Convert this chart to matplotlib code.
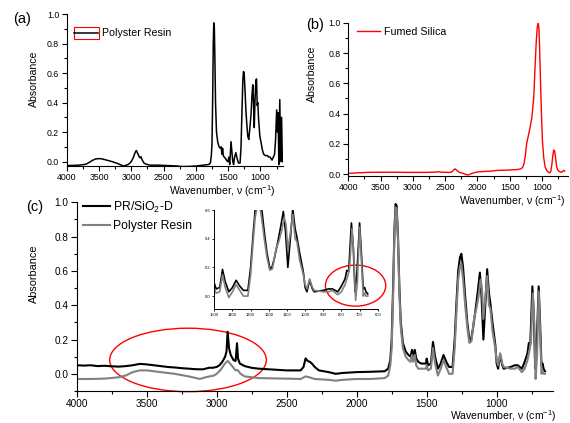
import matplotlib
matplotlib.use("Agg")
import matplotlib.pyplot as plt
from matplotlib.patches import Ellipse, Rectangle
from matplotlib.ticker import MultipleLocator

plt.rcParams['font.family'] = ['Liberation Sans', 'DejaVu Sans']
plt.rcParams['mathtext.fontset'] = 'custom'
plt.rcParams['mathtext.rm'] = 'Liberation Sans'
plt.rcParams['mathtext.default'] = 'regular'

# (a) polyester resin spectrum
pr_wn = [4000, 3900, 3800, 3700, 3650, 3600, 3550, 3500, 3450, 3400, 3300, 3200, 3150, 3120,
         3080, 3050, 3020, 3000, 2970, 2950, 2930, 2920, 2905, 2880, 2865, 2850, 2830, 2800,
         2750, 2700, 2600, 2500, 2400, 2300, 2200, 2100, 2000, 1900, 1800, 1775, 1760, 1750,
         1740, 1730, 1722, 1714, 1705, 1695, 1680, 1660, 1640, 1620, 1607, 1597, 1585, 1575,
         1560, 1540, 1510, 1500, 1490, 1475, 1455, 1440, 1428, 1415, 1400, 1380, 1360, 1340,
         1315, 1300, 1285, 1272, 1262, 1252, 1240, 1225, 1210, 1195, 1180, 1165, 1145, 1130,
         1118, 1108, 1095, 1085, 1070, 1060, 1050, 1040, 1030, 1010, 1000, 990, 970, 950, 920,
         890, 870, 850, 820, 800, 780, 765, 748, 735, 725, 715, 700, 685, 672, 660]
pr_abs = [-0.027, -0.026, -0.024, -0.018, -0.005, 0.008, 0.018, 0.02, 0.018, 0.012, 0.0, -0.015,
          -0.025, -0.03, -0.025, -0.02, -0.01, 0.0, 0.025, 0.05, 0.07, 0.075, 0.06, 0.035, 0.025,
          0.033, 0.01, -0.012, -0.02, -0.025, -0.024, -0.026, -0.028, -0.03, -0.034, -0.033,
          -0.03, -0.025, -0.02, -0.01, 0.04, 0.12, 0.4, 0.8, 0.94, 0.92, 0.7, 0.4, 0.2, 0.13,
          0.1, 0.09, 0.1, 0.05, 0.09, 0.04, 0.03, 0.02, 0.0, 0.0, 0.03, -0.02, 0.135, 0.06, 0.0,
          -0.02, 0.03, 0.06, 0.02, -0.01, -0.01, 0.1, 0.35, 0.55, 0.61, 0.6, 0.5, 0.35, 0.25,
          0.17, 0.15, 0.22, 0.32, 0.45, 0.52, 0.42, 0.23, 0.4, 0.55, 0.56, 0.38, 0.4, 0.3, 0.18,
          0.15, 0.13, 0.08, 0.05, 0.04, 0.04, 0.03, 0.03, 0.01, 0.03, 0.05, 0.15, 0.35, 0.2,
          0.33, -0.02, 0.42, 0.0, 0.3, 0.0]

# (b) fumed silica spectrum
fs_wn = [4000, 3900, 3800, 3700, 3500, 3300, 3100, 3000, 2800, 2650, 2600, 2550, 2450, 2400,
         2365, 2345, 2320, 2280, 2220, 2180, 2140, 2100, 2050, 2000, 1900, 1800, 1700, 1600,
         1500, 1400, 1330, 1300, 1280, 1260, 1240, 1215, 1190, 1160, 1130, 1110, 1090, 1075,
         1062, 1050, 1040, 1025, 1010, 995, 975, 955, 930, 900, 880, 865, 850, 835, 820, 805,
         790, 775, 760, 740, 720, 700, 680, 665, 650]
fs_abs = [0.005, 0.008, 0.01, 0.012, 0.013, 0.013, 0.012, 0.012, 0.012, 0.014, 0.016, 0.013,
          0.012, 0.014, 0.03, 0.035, 0.025, 0.012, 0.005, -0.002, -0.005, 0.003, 0.01, 0.015,
          0.018, 0.02, 0.025, 0.026, 0.028, 0.03, 0.035, 0.045, 0.07, 0.12, 0.2, 0.25, 0.3,
          0.37, 0.5, 0.7, 0.88, 0.97, 1.0, 0.97, 0.85, 0.62, 0.4, 0.22, 0.11, 0.05, 0.025,
          0.012, 0.01, 0.02, 0.06, 0.12, 0.16, 0.15, 0.1, 0.05, 0.03, 0.02, 0.015, 0.012, 0.02,
          0.025, 0.02]

# (c) PR/SiO2-D (black)
prs_wn = [4000, 3950, 3900, 3850, 3800, 3750, 3700, 3650, 3600, 3550, 3500, 3450, 3400, 3350,
          3300, 3250, 3200, 3150, 3100, 3080, 3050, 3030, 3000, 2980, 2960, 2940, 2930, 2922,
          2912, 2900, 2880, 2865, 2855, 2848, 2835, 2800, 2750, 2700, 2600, 2500, 2400, 2380,
          2365, 2350, 2335, 2320, 2300, 2270, 2200, 2150, 2100, 2000, 1900, 1800, 1775, 1760,
          1750, 1740, 1730, 1722, 1715, 1705, 1695, 1685, 1670, 1650, 1630, 1615, 1605, 1597,
          1585, 1575, 1560, 1540, 1520, 1505, 1500, 1490, 1470, 1455, 1440, 1420, 1400, 1380,
          1360, 1340, 1315, 1300, 1285, 1275, 1262, 1252, 1240, 1225, 1210, 1195, 1185, 1170,
          1150, 1135, 1120, 1108, 1095, 1080, 1068, 1055, 1045, 1030, 1010, 1000, 990, 975, 960,
          950, 900, 870, 850, 820, 800, 780, 770, 760, 745, 735, 725, 715, 700, 690, 680, 672,
          665, 655]
prs_abs = [0.05, 0.048, 0.05, 0.045, 0.047, 0.044, 0.042, 0.045, 0.05, 0.058, 0.055, 0.05,
           0.045, 0.04, 0.037, 0.033, 0.03, 0.027, 0.026, 0.03, 0.036, 0.035, 0.04, 0.05, 0.07,
           0.1, 0.13, 0.245, 0.15, 0.11, 0.08, 0.075, 0.178, 0.09, 0.06, 0.045, 0.035, 0.03,
           0.025, 0.02, 0.02, 0.04, 0.09, 0.075, 0.07, 0.06, 0.04, 0.02, 0.01, 0.0, 0.005, 0.01,
           0.012, 0.015, 0.03, 0.08, 0.2, 0.5, 0.85, 0.99, 0.98, 0.8, 0.5, 0.3, 0.18, 0.13,
           0.11, 0.1, 0.14, 0.1, 0.14, 0.09, 0.07, 0.06, 0.06, 0.06, 0.089, 0.05, 0.06, 0.186,
           0.1, 0.03, 0.06, 0.11, 0.07, 0.04, 0.04, 0.2, 0.45, 0.6, 0.68, 0.7, 0.62, 0.45, 0.3,
           0.2, 0.19, 0.26, 0.38, 0.48, 0.59, 0.45, 0.2, 0.42, 0.61, 0.47, 0.41, 0.3, 0.17,
           0.06, 0.03, 0.11, 0.05, 0.03, 0.04, 0.05, 0.05, 0.03, 0.07, 0.12, 0.18, 0.17, 0.51,
           0.35, 0.03, 0.15, 0.51, 0.3, 0.05, 0.06, 0.03, 0.015]

# (c) polyester resin (grey)
prc_wn = [4000, 3900, 3800, 3700, 3650, 3600, 3550, 3500, 3450, 3400, 3300, 3200, 3120, 3080,
          3050, 3020, 3000, 2970, 2950, 2930, 2920, 2905, 2880, 2865, 2850, 2830, 2800, 2700,
          2500, 2400, 2365, 2340, 2300, 2200, 2150, 2100, 2000, 1900, 1800, 1775, 1760, 1750,
          1740, 1730, 1722, 1715, 1705, 1695, 1685, 1670, 1650, 1630, 1615, 1605, 1597, 1585,
          1575, 1560, 1540, 1520, 1505, 1500, 1490, 1470, 1455, 1440, 1420, 1400, 1380, 1360,
          1340, 1315, 1300, 1285, 1275, 1262, 1252, 1240, 1225, 1210, 1195, 1180, 1160, 1145,
          1130, 1115, 1105, 1095, 1080, 1068, 1055, 1045, 1030, 1010, 1000, 990, 975, 960, 950,
          900, 870, 850, 820, 800, 780, 765, 755, 742, 732, 722, 712, 700, 690, 680, 672, 665,
          655]
prc_abs = [-0.03, -0.03, -0.028, -0.02, -0.01, 0.01, 0.02, 0.02, 0.015, 0.01, 0.0, -0.015,
           -0.03, -0.02, -0.015, -0.01, 0.0, 0.025, 0.05, 0.07, 0.075, 0.06, 0.035, 0.02, 0.022,
           0.0, -0.015, -0.025, -0.028, -0.03, -0.015, -0.02, -0.03, -0.035, -0.04, -0.035,
           -0.03, -0.03, -0.025, -0.01, 0.05, 0.15, 0.45, 0.82, 0.97, 0.96, 0.78, 0.47, 0.27,
           0.15, 0.1, 0.08, 0.07, 0.11, 0.07, 0.11, 0.05, 0.03, 0.03, 0.03, 0.03, 0.05, 0.02,
           0.03, 0.15, 0.06, -0.01, 0.03, 0.08, 0.04, 0.0, 0.0, 0.15, 0.4, 0.55, 0.63, 0.64,
           0.55, 0.4, 0.27, 0.18, 0.19, 0.33, 0.38, 0.45, 0.55, 0.5, 0.32, 0.45, 0.57, 0.4, 0.38,
           0.25, 0.15, 0.08, 0.05, 0.12, 0.06, 0.04, 0.03, 0.03, 0.04, 0.01, 0.03, 0.08, 0.14,
           0.2, 0.47, 0.3, -0.03, 0.1, 0.48, 0.25, 0.0, 0.02, 0.0, 0.0]

xlabel = 'Wavenumber, ν (cm$^{-1}$)'


def style_axes(ax, tick_size, xmin_lim):
    for side in ['top', 'right']:
        ax.spines[side].set_visible(False)
    ax.set_xlim(4000, xmin_lim)
    ax.set_xticks([4000, 3500, 3000, 2500, 2000, 1500, 1000])
    ax.xaxis.set_minor_locator(MultipleLocator(250))
    ax.set_yticks([0.0, 0.2, 0.4, 0.6, 0.8, 1.0])
    ax.yaxis.set_minor_locator(MultipleLocator(0.1))
    ax.yaxis.set_major_formatter(plt.FormatStrFormatter('%.1f'))
    ax.tick_params(which='major', length=3.5, width=0.8, labelsize=tick_size, pad=2)
    ax.tick_params(which='minor', length=2, width=0.8)
    ax.patch.set_visible(False)


fig = plt.figure(figsize=(5.7, 4.23), dpi=100)

# ---- (a)
ax_a = fig.add_axes([0.117, 0.6083, 0.3795, 0.3586])
ax_a.plot(pr_wn, pr_abs, color='black', lw=1.1, label='Polyster Resin')
style_axes(ax_a, 6.3, 650)
ax_a.set_ylim(-0.028, 1.0)
ax_a.set_ylabel('Absorbance', fontsize=7.6)
ax_a.yaxis.set_label_coords(-0.128, 0.575)
ax_a.set_xlabel(xlabel, fontsize=7.5, loc='right')
ax_a.xaxis.set_label_coords(0.963, -0.118)
ax_a.legend(loc='center left', bbox_to_anchor=(0.034, 0.873), frameon=False, fontsize=7.7,
            handlelength=2.25, handletextpad=0.35, borderpad=0, borderaxespad=0)
ax_a.add_patch(Rectangle((0.034, 0.835), 0.114, 0.079, transform=ax_a.transAxes, fill=False,
                         edgecolor='red', lw=0.8, clip_on=False))

# ---- (b)
ax_b = fig.add_axes([0.611, 0.5846, 0.3854, 0.3617])
ax_b.plot(fs_wn, fs_abs, color='red', lw=1.0, label='Fumed Silica')
style_axes(ax_b, 6.3, 600)
ax_b.set_ylim(-0.01, 1.0)
ax_b.set_ylabel('Absorbance', fontsize=7.6)
ax_b.yaxis.set_label_coords(-0.142, 0.665)
ax_b.set_xlabel(xlabel, fontsize=7.5, loc='right')
ax_b.xaxis.set_label_coords(0.986, -0.112)
ax_b.legend(loc='center left', bbox_to_anchor=(0.038, 0.939), frameon=False, fontsize=7.7,
            handlelength=2.2, handletextpad=0.37, borderpad=0, borderaxespad=0)

# ---- (c)
ax_c = fig.add_axes([0.1346, 0.0757, 0.835, 0.446])
ax_c.plot(prs_wn, prs_abs, color='black', lw=1.5, label='PR/SiO$_2$-D')
ax_c.plot(prc_wn, prc_abs, color='#808080', lw=1.5, label='Polyster Resin')
style_axes(ax_c, 7.2, 600)
ax_c.set_ylim(-0.1, 1.0)
ax_c.tick_params(which='major', length=4)
ax_c.tick_params(which='minor', length=2.5)
ax_c.set_ylabel('Absorbance', fontsize=7.8)
ax_c.yaxis.set_label_coords(-0.0786, 0.62)
ax_c.set_xlabel(xlabel, fontsize=7.5, loc='right')
ax_c.xaxis.set_label_coords(1.008, -0.093)
ax_c.legend(loc='upper left', bbox_to_anchor=(0.013, 1.015), frameon=False, fontsize=8.8,
            handlelength=2.2, handletextpad=0.25, labelspacing=0.45, borderpad=0,
            borderaxespad=0)
ax_c.add_patch(Ellipse((3205, 0.081), 1119, 0.37, fill=False, edgecolor='red', lw=1.0,
                       clip_on=False))

# ---- inset
ax_i = fig.add_axes([0.376, 0.2695, 0.2867, 0.234])
ax_i.plot(prs_wn, prs_abs, color='black', lw=1.2)
ax_i.plot(prc_wn, prc_abs, color='#808080', lw=1.2)
for side in ['top', 'right']:
    ax_i.spines[side].set_visible(False)
ax_i.set_xlim(1500, 600)
ax_i.set_ylim(-0.09, 0.6)
ax_i.set_xticks(range(1500, 599, -100))
ax_i.set_yticks([0.0, 0.2, 0.4, 0.6])
ax_i.yaxis.set_major_formatter(plt.FormatStrFormatter('%.1f'))
ax_i.tick_params(length=1.5, width=0.6, labelsize=3, pad=1.5)
for s in ax_i.spines.values():
    s.set_linewidth(0.7)
ax_i.patch.set_alpha(0)
ax_i.add_patch(Ellipse((722, 0.073), 332, 0.286, fill=False, edgecolor='red', lw=1.0,
                       clip_on=False))

# panel letters
fig.text(0.0228, 0.955, '(a)', fontsize=10.5, va='center')
fig.text(0.537, 0.941, '(b)', fontsize=10.5, va='center')
fig.text(0.0456, 0.511, '(c)', fontsize=10.5, va='center')

fig.savefig('out.png', dpi=100)
